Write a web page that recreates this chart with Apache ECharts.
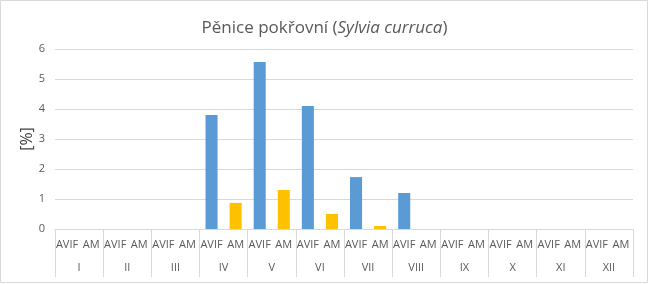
<!DOCTYPE html>
<html>
<head>
<meta charset="utf-8">
<script src="https://cdn.jsdelivr.net/npm/echarts@6/dist/echarts.min.js"></script>
<style>html,body{margin:0;padding:0;background:#fff;}#c{width:649px;height:284px;}</style>
</head>
<body>
<div id="c"></div>
<script>
const months = ['I','II','III','IV','V','VI','VII','VIII','IX','X','XI','XII'];
const subCats = ['AVIF','AM'];
const avif = [0, 0, 0, 3.8, 5.57, 4.1, 1.73, 1.2, 0, 0, 0, 0];
const am   = [0, 0, 0, 0.87, 1.3, 0.5, 0.1, 0, 0, 0, 0, 0];
const yTicks = [0, 1, 2, 3, 4, 5, 6];
const yName = '[%]';

const cats = [];
const avifData = [];
const amData = [];
months.forEach((m, i) => {
  cats.push(subCats[0]); cats.push(subCats[1]);
  avifData.push(avif[i]); avifData.push(null);
  amData.push(null); amData.push(am[i]);
});

const font = '"Open Sans", "Noto Sans", sans-serif';
const chart = echarts.init(document.getElementById('c'));
chart.setOption({
  animation: false,
  title: {
    text: '{n|Pěnice pokřovní (}{i|Sylvia curruca}{n|)}',
    left: 'center', top: 15,
    textStyle: {
      fontWeight: 'normal',
      rich: {
        n: {fontFamily: font, fontSize: 17, color: '#595959', fontWeight: 'normal'},
        i: {fontFamily: font, fontSize: 17, color: '#595959', fontStyle: 'italic', fontWeight: 'normal'}
      }
    }
  },
  graphic: [{
    type: 'rect', shape: {x: 0.5, y: 0.5, width: 647, height: 282},
    style: {fill: 'none', stroke: '#d9d9d9', lineWidth: 1}
  }, {
    type: 'text', x: 27, y: 139, rotation: Math.PI / 2,
    style: {text: yName, fill: '#404040', font: '16px ' + font, align: 'center', verticalAlign: 'middle'}
  }],
  grid: {left: 55, right: 16, top: 49, bottom: 55},
  xAxis: [{
    type: 'category', data: cats, position: 'bottom',
    axisLine: {show: true, lineStyle: {color: '#d9d9d9'}},
    axisTick: {show: false},
    axisLabel: {interval: 0, color: '#595959', fontFamily: font, fontSize: 11, margin: 10}
  }, {
    type: 'category', data: months, position: 'bottom',
    axisLine: {show: false},
    axisTick: {show: true, length: 48, lineStyle: {color: '#d9d9d9'}},
    axisLabel: {interval: 0, color: '#595959', fontFamily: font, fontSize: 11, margin: 33}
  }],
  yAxis: {
    type: 'value', min: yTicks[0], max: yTicks[yTicks.length - 1], interval: 1,
    axisLine: {show: false}, axisTick: {show: false},
    axisLabel: {color: '#595959', fontFamily: font, fontSize: 11, margin: 10},
    splitLine: {lineStyle: {color: '#d9d9d9'}}
  },
  series: [{
    name: 'AVIF', type: 'bar', data: avifData, xAxisIndex: 0,
    barWidth: '50%', barGap: '-100%', itemStyle: {color: '#5b9bd5'}
  }, {
    name: 'AM', type: 'bar', data: amData, xAxisIndex: 0,
    barWidth: '50%', barGap: '-100%', itemStyle: {color: '#ffc000'}
  }]
});
</script>
</body>
</html>
